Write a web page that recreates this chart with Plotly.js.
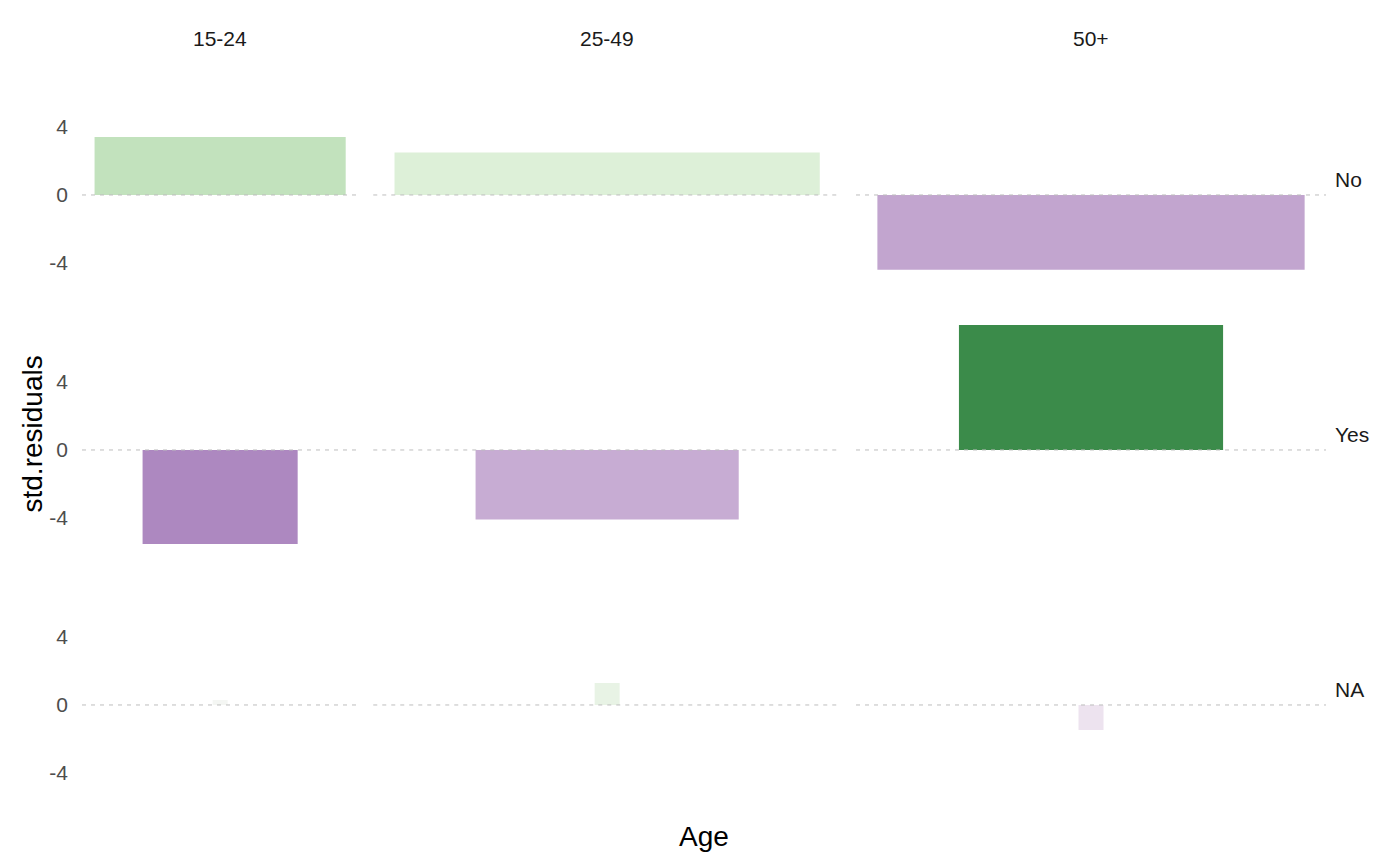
<!DOCTYPE html>
<html>
<head>
<meta charset="utf-8">
<script src="https://cdn.plot.ly/plotly-3.0.1.min.js"></script>
<style>
  html, body { margin: 0; padding: 0; background: #ffffff; }
  #chart { width: 1400px; height: 866px; }
</style>
</head>
<body>
<div id="chart"></div>
<script>
// ---- data ----
const ageGroups = ['15-24', '25-49', '50+'];
const responses = ['No', 'Yes', 'NA'];
// standardized residuals per response row, by age group
const residNo  = [3.41, 2.49, -4.40];
const residYes = [-5.53, -4.08, 7.35];
const residNA  = [0.30, 1.29, -1.47];
// relative sqrt(expected count) per cell (bar widths)
const sqrtExpNo  = [25.1, 42.5, 42.7];
const sqrtExpYes = [15.5, 26.3, 26.4];
const sqrtExpNA  = [1.5, 2.5, 2.5];
const yTicks = [-4, 0, 4];

const resid = [residNo, residYes, residNA];
const sqrtExp = [sqrtExpNo, sqrtExpYes, sqrtExpNA];

// ---- geometry (styles) ----
const W = 1400, H = 866;
const mL = 82, mR = 74, mT = 59, mB = 56;
const plotW = W - mL - mR, plotH = H - mT - mB;
const gapX = 15 / plotW, gapY = 14 / plotH;
const font = '"Liberation Sans", Arial, Helvetica, sans-serif';

// column ranges (free x space) from widest bar with 5% expansion each side
const colRange = ageGroups.map((_, c) => Math.max(...sqrtExp.map(r => r[c])) * 1.1);
const totRange = colRange.reduce((a, b) => a + b, 0);
const avail = 1 - gapX * (ageGroups.length - 1);
const xDomains = [];
let acc = 0;
colRange.forEach(r => {
  const w = avail * r / totRange;
  xDomains.push([acc, acc + w]);
  acc += w + gapX;
});
const rowH = (1 - gapY * (responses.length - 1)) / responses.length;
const yDomains = responses.map((_, r) => {
  const top = 1 - r * (rowH + gapY);
  return [top - rowH, top];
});

// shared y range with 5% expansion
const allRes = resid.flat();
const yMin = Math.min(...allRes), yMax = Math.max(...allRes);
const ySpan = yMax - yMin;
const yRange = [yMin - 0.05 * ySpan, yMax + 0.05 * ySpan];
const cAbs = Math.max(...allRes.map(Math.abs));

const colorscale = [
  [0.0, '#9970ab'],
  [0.124, '#ad88c0'],
  [0.21, '#c4a8d1'],
  [0.40, '#ede3ef'],
  [0.5, '#f7f7f7'],
  [0.6, '#e6f2e2'],
  [0.67, '#ddf0d8'],
  [0.73, '#c3e3be'],
  [1.0, '#3b8b4a']
];

const traces = [];
const layout = {
  width: W, height: H,
  margin: { l: mL, r: mR, t: mT, b: mB },
  paper_bgcolor: '#ffffff', plot_bgcolor: '#ffffff',
  showlegend: false,
  font: { family: font, color: '#1a1a1a' },
  shapes: [], annotations: []
};

responses.forEach((resp, r) => {
  ageGroups.forEach((age, c) => {
    const k = r * ageGroups.length + c + 1;
    const sfx = k === 1 ? '' : String(k);
    traces.push({
      type: 'bar',
      x: [0], y: [resid[r][c]], width: [sqrtExp[r][c]],
      xaxis: 'x' + sfx, yaxis: 'y' + sfx,
      marker: { color: [resid[r][c]], colorscale: colorscale, cmin: -cAbs, cmax: cAbs,
                showscale: false, line: { width: 0 } },
      hovertemplate: resp + ', ' + age + ': %{y}<extra></extra>'
    });
    layout['xaxis' + sfx] = {
      domain: xDomains[c], anchor: 'y' + sfx,
      range: [-colRange[c] / 2, colRange[c] / 2],
      showticklabels: false, showgrid: false, zeroline: false, showline: false, ticks: '',
      fixedrange: true
    };
    layout['yaxis' + sfx] = {
      domain: yDomains[r], anchor: 'x' + sfx,
      range: yRange, tickvals: yTicks, ticktext: yTicks.map(String),
      showticklabels: c === 0, showgrid: false, zeroline: false, showline: false, ticks: '',
      ticklabelstandoff: 13,
      tickfont: { family: font, size: 21, color: '#4d4d4d' },
      fixedrange: true
    };
    layout.shapes.push({
      type: 'line', xref: 'x' + sfx + ' domain', yref: 'y' + sfx,
      x0: 0, x1: 1, y0: 0, y1: 0,
      line: { color: '#bdbdbd', width: 1, dash: '4px,5px' }, layer: 'above'
    });
  });
});

// strip labels
ageGroups.forEach((age, c) => {
  layout.annotations.push({
    text: age, xref: 'paper', yref: 'paper',
    x: (xDomains[c][0] + xDomains[c][1]) / 2, y: 1 + (mT - 38) / plotH,
    xanchor: 'center', yanchor: 'middle', showarrow: false,
    font: { family: font, size: 21, color: '#1a1a1a' }
  });
});
responses.forEach((resp, r) => {
  layout.annotations.push({
    text: resp, xref: 'paper', yref: 'paper',
    x: 1 + 7 / plotW, y: (yDomains[r][0] + yDomains[r][1]) / 2,
    xanchor: 'left', yanchor: 'middle', showarrow: false,
    font: { family: font, size: 21, color: '#1a1a1a' }
  });
});
// axis titles
layout.annotations.push({
  text: 'std.residuals', xref: 'paper', yref: 'paper',
  x: (32 - mL) / plotW, y: 0.5, textangle: -90,
  xanchor: 'center', yanchor: 'middle', showarrow: false,
  font: { family: font, size: 28, color: '#000000' }
});
layout.annotations.push({
  text: 'Age', xref: 'paper', yref: 'paper',
  x: 0.5, y: -(836 - (H - mB)) / plotH,
  xanchor: 'center', yanchor: 'middle', showarrow: false,
  font: { family: font, size: 28, color: '#000000' }
});

Plotly.newPlot('chart', traces, layout, { displayModeBar: false, staticPlot: true });
</script>
</body>
</html>
